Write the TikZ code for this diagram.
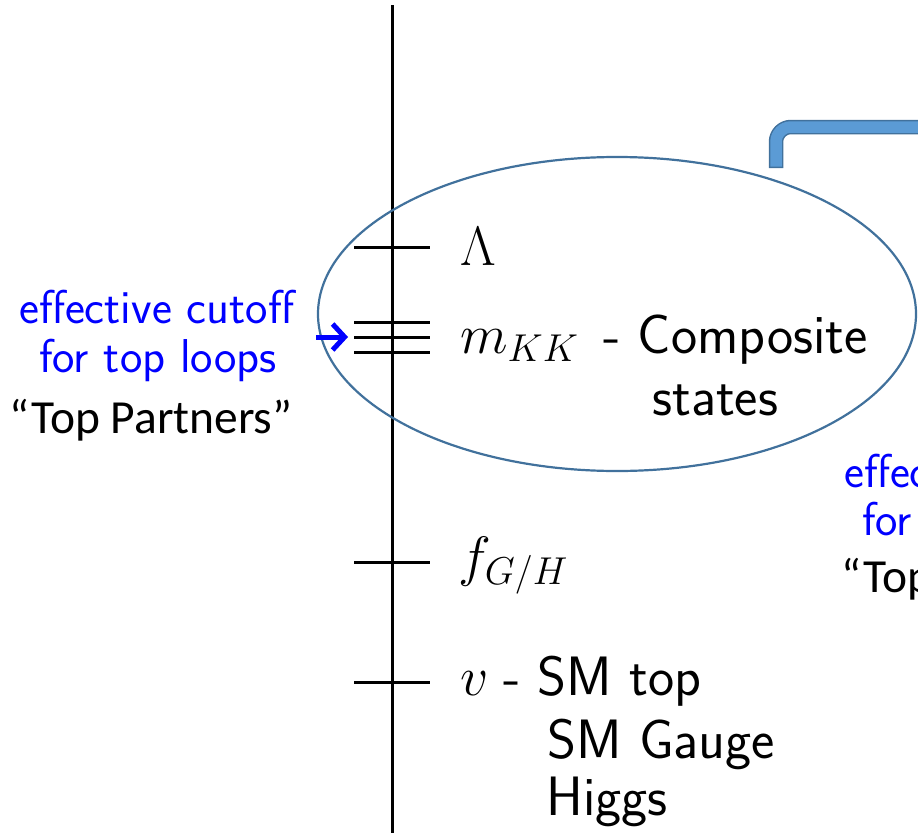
\documentclass[tikz,border=0pt]{standalone}
\usepackage{fix-cm}
\usepackage{amsmath}
\usepackage{fontspec}
\newfontfamily\partnersfont{Carlito}
\usetikzlibrary{calc, arrows.meta}

\definecolor{ovaledge}{HTML}{41719C}
\definecolor{bracketfill}{HTML}{5B9BD5}
\definecolor{cutoffblue}{RGB}{0,0,255}

\tikzset{
	axis line/.style={line width=3bp, black},
	scale tick/.style={line width=3bp, black},
	oval/.style={line width=2.2bp, draw=ovaledge},
	bracket edge/.style={line width=14.5bp, draw=ovaledge, rounded corners=15bp},
	bracket body/.style={line width=11.5bp, draw=bracketfill, rounded corners=15bp},
	cutoff arrow/.style={line width=5bp, draw=cutoffblue, -{Straight Barb[length=12bp, width=26bp]}},
	level/.style={anchor=base west, inner sep=0pt, font=\fontsize{55.5bp}{62bp}\selectfont\sffamily},
	cutoff/.style={anchor=base west, inner sep=0pt, text=cutoffblue, font=\fontsize{47.5bp}{52bp}\selectfont\sffamily},
	partners/.style={anchor=base west, inner sep=0pt, font=\fontsize{47.5bp}{56bp}\selectfont\partnersfont},
}

\begin{document}
\begin{tikzpicture}[x=1bp, y=-1bp]
	\clip (0,0) rectangle (918,833);
	
	% Coordinate dell'asse e delle scale
	\coordinate (axistop) at (392,5);
	\coordinate (axisbot) at (392,840);
	\coordinate (lam) at (392,247);
	\coordinate (kkA) at (392,322);
	\coordinate (kkB) at (392,337);
	\coordinate (kkC) at (392,352);
	\coordinate (fgh) at (392,562);
	\coordinate (vev) at (392,682);
	
	% Asse verticale
	\draw[axis line] (axistop) -- (axisbot);
	
	% Tacche delle scale
	\draw[scale tick] ($(lam)+(-38,0)$) -- ($(lam)+(38,0)$);
	\draw[scale tick] ($(kkA)+(-38,0)$) -- ($(kkA)+(38,0)$);
	\draw[scale tick] ($(kkB)+(-38,0)$) -- ($(kkB)+(38,0)$);
	\draw[scale tick] ($(kkC)+(-38,0)$) -- ($(kkC)+(38,0)$);
	\draw[scale tick] ($(fgh)+(-38,0)$) -- ($(fgh)+(38,0)$);
	\draw[scale tick] ($(vev)+(-38,0)$) -- ($(vev)+(38,0)$);
	
	% Ellisse attorno agli stati compositi
	\draw[oval] (617,314) ellipse [x radius=299, y radius=157];
	
	% Staffa blu in alto a destra
	\draw[bracket edge] (776,168) -- (776,127) -- (930,127);
	\draw[bracket body] (776,166.5) -- (776,127) -- (930,127);
	
	% Freccia del cutoff
	\coordinate (arrowtail) at (316,337);
	\coordinate (arrowtip) at (348,337);
	\draw[cutoff arrow] (arrowtail) -- (arrowtip);
	
	% Etichette delle scale
	\node[level] (lambda) at (460,265) {$\Lambda$};
	\node[level] (mkk) at (460,353) {$m_{KK}$};
	\node[level] (mkktext) at (603,353) {- Composite};
	\node[level] (states) at (652,415) {states};
	\node[level] (fghlabel) at (458,575) {$f_{G/H}$};
	\node[level] (v) at (460,695) {$v$};
	\node[level] (vtop) at (503,695) {- SM top};
	\node[level] (gauge) at (547,758) {SM Gauge};
	\node[level] (higgs) at (546,815) {Higgs};
	
	% Testi a sinistra
	\node[cutoff] (cutoffL) at (19,323) {effective cutoff};
	\node[cutoff] (loopsL) at (39,372) {for top loops};
	\node[partners] (partnersL) at (9,433) {“Top Partners”};
	
	% Testi a destra (tagliati dal bordo)
	\node[cutoff] (cutoffR) at (844,487) {effective cutoff};
	\node[cutoff] (loopsR) at (862,535) {for top loops};
	\node[partners] (partnersR) at (841,592) {“Top Partners”};
\end{tikzpicture}
\end{document}
